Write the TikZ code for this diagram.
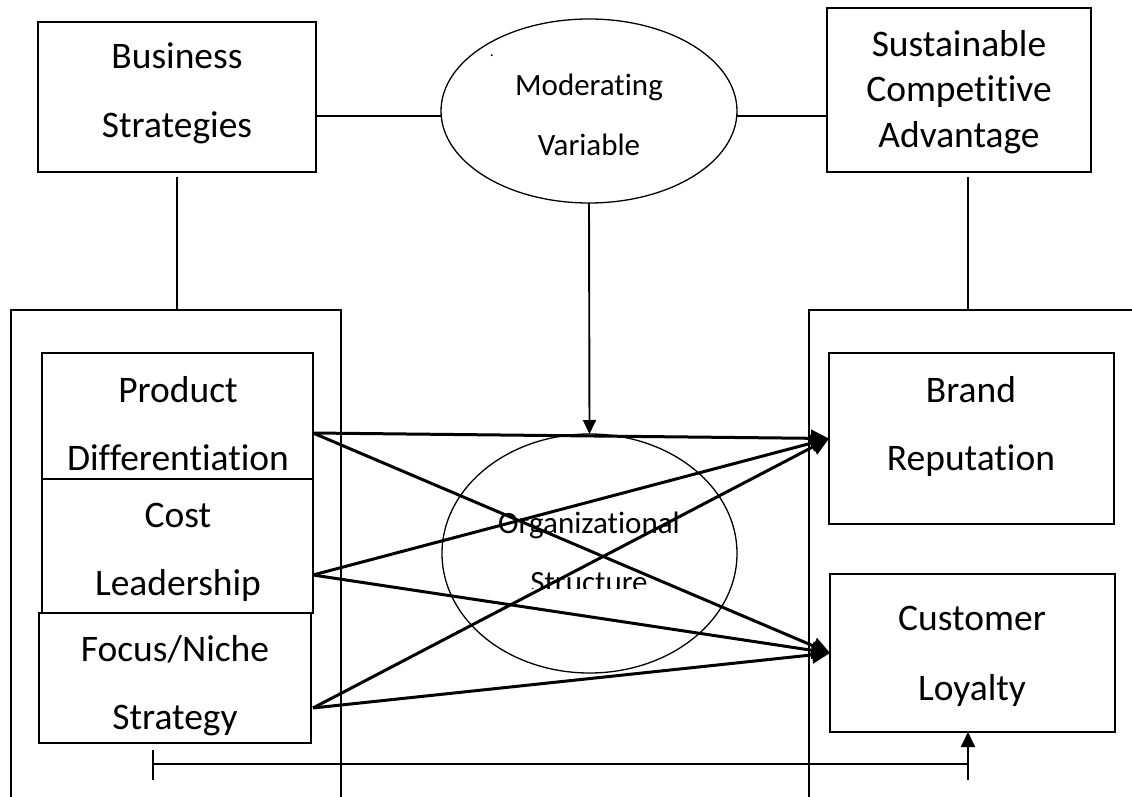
\documentclass[tikz,border=0pt]{standalone}
\usepackage{fontspec}
\setmainfont{Carlito}[Ligatures={NoCommon,NoContextual}]
\usetikzlibrary{arrows.meta,shapes.geometric}
\begin{document}
\begin{tikzpicture}[x=1pt,y=-1pt,
  box/.style={draw,line width=1.7pt,rectangle,inner sep=0pt,outer sep=0pt,anchor=north west},
  oval/.style={draw,line width=1.3pt,ellipse,inner sep=0pt,outer sep=0pt},
  txt/.style={font=\fontsize{37.5}{44}\selectfont,anchor=base,inner sep=0pt},
  stxt/.style={font=\fontsize{31}{37}\selectfont,anchor=base,inner sep=0pt},
  link/.style={line width=1.6pt},
  thin/.style={line width=1.3pt},
  arr/.style={line width=3pt,-{Triangle[length=18pt,width=17pt]}},
  marr/.style={line width=1.9pt,-{Triangle[length=14pt,width=13pt]}},
  barr/.style={line width=1.9pt,-{Triangle[length=15pt,width=14pt]}},
]
\useasboundingbox (0,0) rectangle (1132,797);

% top row
\node[box,minimum width=278pt,minimum height=150pt] (bs) at (38,22) {};
\node[oval,minimum width=296pt,minimum height=184pt] (mv) at (589,111) {};
\node[box,minimum width=264pt,minimum height=164pt] (sca) at (827,8) {};

\node[txt] (t1) at (177,69) {Business};
\node[txt] (t2) at (177,138) {Strategies};
\node[stxt] (t3) at (589,96) {Moderating};
\node[stxt] (t4) at (589,156) {Variable};
\node[font=\fontsize{16}{16}\selectfont,inner sep=0pt,anchor=base] (dot) at (492,57) {.};
\node[txt] (t5) at (959,57) {Sustainable};
\node[txt] (t6) at (959,102) {Competitive};
\node[txt] (t7) at (959,147) {Advantage};

\draw[link] (bs.east |- 0,116) -- (mv.west |- 0,116);
\draw[link] (mv.east |- 0,116) -- (sca.west |- 0,116);

% outer frames
\coordinate (ltop) at (177,310);
\coordinate (rtop) at (968,310);
\draw[link] (11,797) |- (341,310) -- (341,797);
\draw[link] (809,797) |- (1132,310);
\draw[link] (bs.south |- 0,177) -- (ltop);
\draw[link] (rtop |- 0,177) -- (rtop);

% left boxes
\node[box,minimum width=271pt,minimum height=126pt] (pd) at (42,353) {};
\node[box,minimum width=271pt,minimum height=134pt] (cl) at (42,479) {};
\node[box,minimum width=272pt,minimum height=130pt] (fn) at (39,613) {};
\node[txt] (t8) at (178,402) {Product};
\node[txt] (t9) at (178,470) {Differentiation};
\node[txt] (t10) at (178,527) {Cost};
\node[txt] (t11) at (178,595) {Leadership};
\node[txt] (t12) at (175,661) {Focus/Niche};
\begin{scope}
\clip (39,690) rectangle (311,742);
\node[txt] (t13) at (175,729) {Strategy};
\end{scope}

% right boxes
\node[box,minimum width=285pt,minimum height=171pt] (br) at (829,353) {};
\node[box,minimum width=285pt,minimum height=158pt] (cu) at (830,574) {};
\node[txt] (t14) at (971,402) {Brand};
\node[txt] (t15) at (971,470) {Reputation};
\node[txt] (t16) at (972,630) {Customer};
\node[txt] (t17) at (972,700) {Loyalty};

% organizational structure
\node[oval,minimum width=295pt,minimum height=239pt] (os) at (589.5,553.5) {};
\node[stxt] (t18) at (589,533) {Organizational};
\begin{scope}
\clip (440,560) rectangle (740,588);
\node[stxt] (t19) at (589,592) {Structure};
\end{scope}

\draw[marr] (mv.south) -- (os.north);

% arrows
\coordinate (pdo) at (313,433);
\coordinate (clo) at (313,575);
\coordinate (fno) at (313,708);
\draw[arr] (pdo) -- (br.west);
\draw[arr] (pdo) -- (cu.west);
\draw[arr] (clo) -- (br.west);
\draw[arr] (clo) -- (cu.west);
\draw[arr] (fno) -- (br.west);
\draw[arr] (fno) -- (cu.west);

% bottom feedback
\coordinate (b1) at (153,764);
\coordinate (b2) at (968,764);
\coordinate (b3) at (968,780);
\draw[thin] (153,750) -- (153,780);
\draw[thin] (b1) -- (b2);
\draw[barr] (b3) -- (b3 |- cu.south);
\end{tikzpicture}
\end{document}
